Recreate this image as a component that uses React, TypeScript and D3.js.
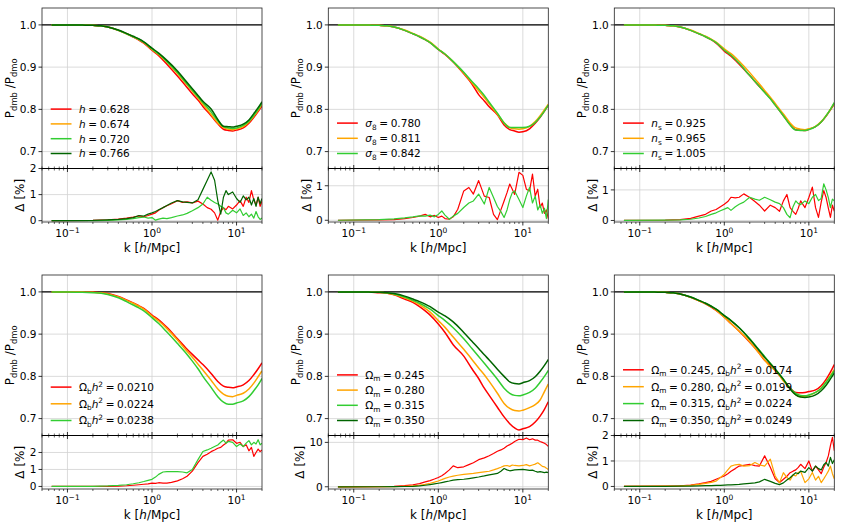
import * as d3 from 'd3';

const W = 843;
const H = 527;
const COLS = [42, 328.3, 614.3];
const ROWS = [8, 275];
const PW = 220;
const MAIN_H = 160.5;
const DELTA_H = 53.5;

const RED = '#ff0000';
const ORANGE = '#ffa500';
const LIME = '#32cd32';
const DARK = '#006400';

// k grid of the ratio curves and of the difference curves
const K = [0.065, 0.1, 0.15, 0.2, 0.25, 0.3, 0.4, 0.5, 0.6, 0.7, 0.8, 1.0, 1.2, 1.5, 2.0, 2.5, 3.0, 3.5, 4.0, 5.0, 6.0, 7.0, 8.0, 9.0, 10, 12, 14, 16, 18, 20];
const KD = [0.065, 0.2, 0.3, 0.4, 0.5, 0.6, 0.7, 0.8, 0.9, 1.0, 1.1, 1.2, 1.35, 1.5, 1.7, 2.0, 2.3, 2.6, 3.0, 3.5, 4.0, 4.5, 5.0, 5.5, 6.0, 6.5, 7.0, 7.5, 8.0, 9.0, 10, 11, 12, 13, 14, 15, 16, 17, 18, 19, 20];

const RATIO_TICKS = [0.7, 0.8, 0.9, 1.0];

// h
const H_VALUES = ['0.628', '0.674', '0.720', '0.766'];
const H_RATIO = [
  [1.000, 1.000, 0.9995, 0.999, 0.998, 0.995, 0.987, 0.979, 0.971, 0.964, 0.957, 0.940, 0.927, 0.907, 0.879, 0.856, 0.837, 0.822, 0.807, 0.785, 0.766, 0.753, 0.750, 0.749, 0.751, 0.756, 0.767, 0.781, 0.795, 0.808],
  [1.000, 1.000, 0.9995, 0.999, 0.998, 0.995, 0.987, 0.979, 0.972, 0.965, 0.958, 0.942, 0.930, 0.912, 0.885, 0.862, 0.843, 0.827, 0.812, 0.788, 0.768, 0.757, 0.753, 0.752, 0.754, 0.759, 0.770, 0.784, 0.798, 0.812],
  [1.000, 1.000, 0.9995, 0.999, 0.998, 0.995, 0.987, 0.979, 0.972, 0.966, 0.959, 0.943, 0.931, 0.913, 0.887, 0.864, 0.845, 0.830, 0.816, 0.794, 0.773, 0.759, 0.756, 0.755, 0.756, 0.762, 0.772, 0.786, 0.800, 0.815],
  [1.000, 1.000, 0.9995, 0.999, 0.998, 0.995, 0.988, 0.980, 0.973, 0.967, 0.960, 0.945, 0.933, 0.916, 0.891, 0.868, 0.849, 0.833, 0.819, 0.801, 0.776, 0.760, 0.759, 0.758, 0.760, 0.765, 0.775, 0.790, 0.804, 0.818],
];
const H_DELTA = [
  [0, 0.01, 0.03, 0.06, 0.1, 0.14, 0.18, 0.15, 0.2, 0.25, 0.3, 0.4, 0.5, 0.57, 0.65, 0.77, 0.7, 0.72, 0.68, 0.75, 0.64, 0.5, 0.44, 0.3, 0.02, 0.35, 0.5, 0.42, 0.55, 0.45, 0.6, 0.77, 0.55, 0.9, 0.7, 1.15, 0.8, 0.6, 0.9, 0.55, 0.75],
  [0, 0, 0.01, 0.03, 0.05, 0.08, 0.12, 0.14, 0.1, 0.12, 0.02, 0.06, 0.1, 0.08, 0.12, 0.18, 0.22, 0.28, 0.38, 0.5, 0.64, 0.9, 0.78, 0.7, 0.64, 0.55, 0.5, 0.3, 0.25, 0.4, 0.3, 0.45, 0.2, 0.3, 0.15, 0.25, 0.1, 0.35, 0.15, 0.05, 0.1],
  [0, 0.01, 0.03, 0.05, 0.08, 0.12, 0.2, 0.18, 0.25, 0.3, 0.35, 0.42, 0.5, 0.58, 0.68, 0.77, 0.72, 0.7, 0.68, 0.8, 1.2, 1.55, 1.87, 1.55, 0.77, 0.25, 0.9, 1.15, 1.0, 1.1, 0.85, 0.7, 0.95, 0.8, 0.9, 0.6, 0.85, 0.55, 0.9, 0.65, 0.85],
];

// sigma_8
const S8_VALUES = ['0.780', '0.811', '0.842'];
const S8_RATIO = [
  [1.000, 1.000, 0.9995, 0.999, 0.998, 0.995, 0.987, 0.979, 0.972, 0.965, 0.958, 0.942, 0.930, 0.912, 0.884, 0.860, 0.835, 0.820, 0.806, 0.787, 0.763, 0.752, 0.749, 0.746, 0.747, 0.754, 0.767, 0.781, 0.796, 0.810],
  [1.000, 1.000, 0.9995, 0.999, 0.998, 0.995, 0.988, 0.980, 0.973, 0.966, 0.959, 0.943, 0.931, 0.913, 0.886, 0.863, 0.844, 0.828, 0.813, 0.789, 0.768, 0.757, 0.754, 0.753, 0.754, 0.760, 0.771, 0.785, 0.799, 0.812],
  [1.000, 1.000, 0.9995, 0.999, 0.998, 0.995, 0.987, 0.979, 0.972, 0.965, 0.958, 0.942, 0.931, 0.913, 0.888, 0.866, 0.849, 0.833, 0.817, 0.791, 0.768, 0.757, 0.757, 0.757, 0.757, 0.760, 0.769, 0.782, 0.796, 0.810],
];
const S8_DELTA = [
  [0, 0.01, 0.02, 0.05, 0.08, 0.12, 0.17, 0.1, 0.14, 0.08, 0.12, 0.05, 0.03, 0.1, 0.32, 0.85, 0.95, 0.76, 1.15, 0.7, 0.66, 0.17, 0.02, 0.3, 0.56, 0.8, 1.05, 0.9, 0.75, 1.39, 1.3, 0.9, 0.85, 1.34, 0.7, 0.9, 0.37, 0.5, 0.2, 0.3, 0.05],
  [0, 0.02, 0.04, 0.07, 0.1, 0.13, 0.12, 0.15, 0.1, 0.17, 0.27, 0.15, 0.03, 0.12, 0.2, 0.37, 0.5, 0.56, 0.76, 0.47, 0.95, 0.66, 0.4, 0.25, 0.08, 0.3, 0.6, 0.8, 0.85, 0.6, 0.37, 0.7, 0.95, 0.5, 0.7, 0.3, 0.45, 0.2, 0.35, 0.05, 0.6],
];

// n_s
const NS_VALUES = ['0.925', '0.965', '1.005'];
const NS_RATIO = [
  [1.000, 1.000, 0.9995, 0.999, 0.998, 0.995, 0.987, 0.979, 0.972, 0.965, 0.957, 0.938, 0.926, 0.907, 0.880, 0.858, 0.841, 0.826, 0.811, 0.785, 0.764, 0.752, 0.751, 0.750, 0.753, 0.759, 0.770, 0.784, 0.799, 0.813],
  [1.000, 1.000, 0.9995, 0.999, 0.998, 0.995, 0.988, 0.980, 0.973, 0.966, 0.959, 0.943, 0.932, 0.914, 0.887, 0.864, 0.845, 0.829, 0.814, 0.789, 0.768, 0.756, 0.753, 0.752, 0.754, 0.760, 0.771, 0.785, 0.800, 0.815],
  [1.000, 1.000, 0.9995, 0.999, 0.998, 0.995, 0.987, 0.979, 0.972, 0.965, 0.958, 0.940, 0.928, 0.909, 0.880, 0.858, 0.840, 0.825, 0.810, 0.785, 0.763, 0.751, 0.750, 0.750, 0.752, 0.759, 0.770, 0.785, 0.800, 0.816],
];
const NS_DELTA = [
  [0, 0.01, 0.03, 0.07, 0.14, 0.2, 0.31, 0.36, 0.45, 0.53, 0.62, 0.76, 0.74, 0.76, 0.87, 0.75, 0.62, 0.5, 0.31, 0.5, 0.42, 0.3, 0.64, 0.85, 0.42, 0.3, 0.2, 0.4, 0.64, 0.42, 0.75, 1.09, 0.42, 0.1, 0.6, 0.98, 0.75, 0.4, 0.1, 0.5, 0.3],
  [0, 0.01, 0.02, 0.04, 0.08, 0.13, 0.2, 0.25, 0.32, 0.37, 0.42, 0.33, 0.45, 0.53, 0.6, 0.76, 0.7, 0.66, 0.76, 0.68, 0.6, 0.55, 0.42, 0.2, 0.09, 0.45, 0.64, 0.55, 0.52, 0.64, 0.55, 0.76, 0.85, 0.65, 0.72, 1.2, 1.0, 0.75, 0.42, 0.7, 0.64],
];

// Omega_b h^2
const OB_VALUES = ['0.0210', '0.0224', '0.0238'];
const OB_RATIO = [
  [1.000, 1.000, 0.9995, 0.999, 0.998, 0.996, 0.989, 0.981, 0.974, 0.967, 0.961, 0.945, 0.934, 0.916, 0.889, 0.868, 0.852, 0.839, 0.828, 0.807, 0.788, 0.777, 0.774, 0.773, 0.775, 0.780, 0.790, 0.804, 0.818, 0.832],
  [1.000, 1.000, 0.9995, 0.999, 0.998, 0.995, 0.988, 0.980, 0.973, 0.966, 0.959, 0.943, 0.931, 0.913, 0.886, 0.863, 0.845, 0.829, 0.815, 0.791, 0.770, 0.758, 0.753, 0.752, 0.755, 0.760, 0.770, 0.784, 0.799, 0.813],
  [1.000, 1.000, 0.999, 0.998, 0.997, 0.994, 0.986, 0.977, 0.969, 0.962, 0.955, 0.939, 0.925, 0.905, 0.878, 0.856, 0.836, 0.818, 0.800, 0.774, 0.752, 0.739, 0.734, 0.734, 0.737, 0.742, 0.752, 0.766, 0.780, 0.795],
];
const OB_DELTA = [
  [0, 0, 0.01, 0.02, 0.04, 0.07, 0.1, 0.13, 0.15, 0.2, 0.18, 0.22, 0.2, 0.2, 0.24, 0.33, 0.45, 0.6, 0.9, 1.4, 1.77, 1.9, 2.05, 2.15, 2.25, 2.3, 2.44, 2.55, 2.73, 2.75, 2.54, 2.6, 2.35, 2.45, 2.1, 2.3, 1.77, 2.0, 2.2, 2.05, 2.15],
  [0, 0.01, 0.03, 0.06, 0.1, 0.16, 0.22, 0.29, 0.36, 0.42, 0.55, 0.71, 0.85, 0.87, 0.87, 0.87, 0.85, 0.8, 1.0, 1.58, 2.06, 2.15, 2.25, 2.35, 2.44, 2.6, 2.73, 2.55, 2.65, 2.6, 2.35, 2.5, 2.35, 2.55, 2.7, 2.45, 2.6, 2.5, 2.75, 2.45, 2.55],
];

// Omega_m
const OM_VALUES = ['0.245', '0.280', '0.315', '0.350'];
const OM_RATIO = [
  [1.000, 1.000, 0.9995, 0.998, 0.997, 0.993, 0.983, 0.975, 0.965, 0.955, 0.945, 0.924, 0.904, 0.875, 0.848, 0.818, 0.795, 0.772, 0.755, 0.727, 0.704, 0.688, 0.678, 0.673, 0.676, 0.681, 0.692, 0.706, 0.722, 0.740],
  [1.000, 1.000, 0.9995, 0.999, 0.997, 0.994, 0.986, 0.978, 0.970, 0.961, 0.952, 0.932, 0.916, 0.893, 0.864, 0.840, 0.820, 0.804, 0.788, 0.760, 0.736, 0.724, 0.719, 0.718, 0.720, 0.726, 0.733, 0.744, 0.764, 0.782],
  [1.000, 1.000, 0.9995, 0.999, 0.998, 0.995, 0.988, 0.980, 0.973, 0.966, 0.959, 0.944, 0.932, 0.915, 0.889, 0.866, 0.847, 0.831, 0.817, 0.793, 0.772, 0.760, 0.755, 0.754, 0.756, 0.762, 0.772, 0.786, 0.800, 0.814],
  [1.000, 1.000, 0.9995, 0.999, 0.998, 0.996, 0.990, 0.983, 0.977, 0.971, 0.965, 0.952, 0.943, 0.929, 0.904, 0.883, 0.866, 0.851, 0.839, 0.817, 0.800, 0.787, 0.783, 0.782, 0.785, 0.790, 0.799, 0.812, 0.826, 0.840],
];
const OM_DELTA = [
  [0, 0.02, 0.08, 0.25, 0.45, 0.7, 1.1, 1.4, 1.75, 2.1, 2.5, 3.0, 3.8, 4.7, 4.3, 4.5, 5.0, 5.4, 6.1, 6.5, 7.0, 7.5, 8.0, 8.3, 8.7, 9.2, 9.5, 9.8, 10.2, 10.7, 10.6, 11.0, 10.6, 10.8, 10.5, 10.5, 10.2, 10.0, 9.8, 9.5, 9.1],
  [0, 0.01, 0.05, 0.12, 0.2, 0.35, 0.55, 0.8, 1.05, 1.3, 1.6, 1.9, 2.2, 2.4, 2.6, 2.8, 2.9, 3.0, 3.2, 3.35, 3.5, 3.8, 4.1, 4.4, 4.7, 4.8, 4.6, 4.9, 4.8, 4.7, 4.8, 5.0, 4.7, 4.9, 5.1, 5.4, 5.0, 4.6, 4.5, 4.2, 3.9],
  [0, 0.01, 0.03, 0.06, 0.1, 0.2, 0.35, 0.5, 0.65, 0.8, 0.95, 1.1, 1.3, 1.5, 1.6, 1.7, 1.85, 2.0, 2.2, 2.45, 2.7, 2.85, 3.0, 3.5, 4.1, 3.8, 3.6, 3.7, 3.8, 3.85, 3.9, 3.8, 3.7, 3.75, 3.5, 3.3, 3.4, 3.3, 3.2, 3.3, 3.2],
];

// Omega_m with Omega_b h^2 scaled
const OMB_M = ['0.245', '0.280', '0.315', '0.350'];
const OMB_B = ['0.0174', '0.0199', '0.0224', '0.0249'];
const OMB_RATIO = [
  [1.000, 1.000, 0.9995, 0.999, 0.998, 0.995, 0.987, 0.979, 0.972, 0.964, 0.956, 0.940, 0.925, 0.907, 0.881, 0.859, 0.838, 0.826, 0.814, 0.791, 0.772, 0.762, 0.761, 0.762, 0.764, 0.768, 0.778, 0.793, 0.810, 0.828],
  [1.000, 1.000, 0.9995, 0.999, 0.998, 0.995, 0.987, 0.979, 0.972, 0.965, 0.957, 0.940, 0.925, 0.907, 0.882, 0.858, 0.839, 0.823, 0.815, 0.789, 0.771, 0.757, 0.752, 0.753, 0.755, 0.762, 0.772, 0.787, 0.802, 0.816],
  [1.000, 1.000, 0.9995, 0.999, 0.998, 0.995, 0.988, 0.980, 0.973, 0.966, 0.959, 0.944, 0.932, 0.915, 0.889, 0.866, 0.847, 0.831, 0.817, 0.793, 0.772, 0.760, 0.755, 0.754, 0.756, 0.762, 0.772, 0.786, 0.800, 0.813],
  [1.000, 1.000, 0.9995, 0.999, 0.998, 0.995, 0.988, 0.980, 0.973, 0.966, 0.959, 0.944, 0.932, 0.915, 0.888, 0.865, 0.845, 0.830, 0.817, 0.793, 0.770, 0.756, 0.751, 0.750, 0.751, 0.756, 0.766, 0.779, 0.794, 0.808],
];
const OMB_DELTA = [
  [0, 0.01, 0.02, 0.05, 0.1, 0.15, 0.2, 0.28, 0.35, 0.41, 0.5, 0.6, 0.7, 0.8, 0.83, 0.87, 0.82, 0.8, 1.2, 0.75, 0.3, 0.15, 0.28, 0.4, 0.54, 0.6, 0.65, 0.75, 0.87, 0.7, 1.0, 0.6, 0.8, 0.65, 0.5, 0.75, 0.94, 1.2, 1.6, 1.93, 1.4],
  [0, 0.01, 0.02, 0.04, 0.08, 0.12, 0.16, 0.21, 0.35, 0.48, 0.65, 0.8, 0.85, 0.87, 0.8, 0.82, 0.94, 0.85, 0.8, 1.07, 0.41, 0.15, 0.54, 0.35, 0.25, 0.45, 0.41, 0.55, 0.6, 0.15, 0.3, 0.55, 0.25, 0.4, 0.15, 0.3, 0.45, 0.6, 0.8, 0.5, 0.3],
  [0, 0, 0.01, 0.01, 0.02, 0.03, 0.03, 0.04, 0.04, 0.05, 0.06, 0.06, 0.07, 0.08, 0.1, 0.12, 0.14, 0.18, 0.28, 0.2, 0.12, 0.07, 0.14, 0.25, 0.34, 0.45, 0.54, 0.5, 0.6, 0.55, 0.74, 0.6, 0.8, 0.7, 0.65, 0.85, 0.94, 0.8, 1.14, 0.9, 1.05],
];

type Seg = { t: string; it?: boolean; sub?: boolean; sup?: boolean };

const FONT = 'DejaVu Sans, sans-serif';
const EQ = '\u2005=\u2005';
const LEG_FS = 10.5;

function Rich({ segs, size }: { segs: Seg[]; size: number }) {
  let off = 0;
  return (
    <>
      {segs.map((s, i) => {
        const target = s.sub ? size * 0.25 : s.sup ? -size * 0.4 : 0;
        const dy = target - off;
        off = target;
        return (
          <tspan key={i} dy={dy} fontStyle={s.it ? 'italic' : undefined}
            fontSize={s.sub || s.sup ? size * 0.7 : size}>{s.t}</tspan>
        );
      })}
    </>
  );
}

interface PanelProps {
  id: string;
  col: number;
  row: number;
  ratios: number[][];
  colors: string[];
  deltas: number[][];
  deltaColors: string[];
  dDomain: [number, number];
  dTicks: number[];
  labels: Seg[][];
  legendDy: number;
}

function Panel(p: PanelProps) {
  const left = COLS[p.col];
  const top = ROWS[p.row];
  const mid = top + MAIN_H;
  const bot = mid + DELTA_H;
  const right = left + PW;

  const x = d3.scaleLog().domain([0.05, 20]).range([left, right]);
  const y = d3.scaleLinear().domain([0.66, 1.04]).range([mid, top]);
  const yd = d3.scaleLinear().domain(p.dDomain).range([bot, mid]);

  const major = [0.1, 1, 10];
  const minor = x.ticks().filter(t => !major.some(m => Math.abs(m - t) < 1e-9));

  const ratioLine = d3.line<number>()
    .x((_, i) => x(K[i]))
    .y(d => y(d))
    .curve(d3.curveMonotoneX);
  const deltaLine = d3.line<number>()
    .x((_, i) => x(KD[i]))
    .y(d => yd(d));

  const tickW = d3.max(p.dTicks, t => String(t).length)! * 6.7;
  const gridC = '#d2d2d2';

  return (
    <g>
      <defs>
        <clipPath id={`${p.id}-m`}><rect x={left} y={top} width={PW} height={MAIN_H} /></clipPath>
        <clipPath id={`${p.id}-d`}><rect x={left} y={mid} width={PW} height={DELTA_H} /></clipPath>
      </defs>

      {/* grids */}
      {major.map(m => (
        <g key={m}>
          <line x1={x(m)} x2={x(m)} y1={top} y2={mid} stroke={gridC} strokeWidth={0.8} />
          <line x1={x(m)} x2={x(m)} y1={mid} y2={bot} stroke={gridC} strokeWidth={0.8} />
        </g>
      ))}
      {RATIO_TICKS.map(t => (
        <line key={t} x1={left} x2={right} y1={y(t)} y2={y(t)} stroke={gridC} strokeWidth={0.8} />
      ))}
      {p.dTicks.map(t => (
        <line key={t} x1={left} x2={right} y1={yd(t)} y2={yd(t)} stroke={gridC} strokeWidth={0.8} />
      ))}

      <line x1={left} x2={right} y1={y(1)} y2={y(1)} stroke="#000" strokeWidth={1.3} />

      <g clipPath={`url(#${p.id}-m)`}>
        {p.ratios.map((r, i) => (
          <path key={i} d={ratioLine(r)!} fill="none" stroke={p.colors[i]} strokeWidth={1.5} />
        ))}
      </g>
      <g clipPath={`url(#${p.id}-d)`}>
        {p.deltas.map((r, i) => (
          <path key={i} d={deltaLine(r)!} fill="none" stroke={p.deltaColors[i]} strokeWidth={1.2}
            strokeLinejoin="round" />
        ))}
      </g>

      {/* frames */}
      <rect x={left} y={top} width={PW} height={MAIN_H} fill="none" stroke="#222" strokeWidth={0.8} />
      <rect x={left} y={mid} width={PW} height={DELTA_H} fill="none" stroke="#222" strokeWidth={0.8} />
      <line x1={left} x2={right} y1={mid} y2={mid} stroke="#000" strokeWidth={1.2} />

      {/* x ticks at the joint and at the bottom */}
      {major.map(m => (
        <g key={m} stroke="#000" strokeWidth={0.8}>
          <line x1={x(m)} x2={x(m)} y1={mid - 3.5} y2={mid + 3.5} />
          <line x1={x(m)} x2={x(m)} y1={bot} y2={bot + 3.5} />
        </g>
      ))}
      {minor.map(m => (
        <g key={m} stroke="#000" strokeWidth={0.6}>
          <line x1={x(m)} x2={x(m)} y1={mid - 2} y2={mid + 2} />
          <line x1={x(m)} x2={x(m)} y1={bot} y2={bot + 2} />
        </g>
      ))}
      {major.map((m, i) => (
        <text key={m} x={x(m)} y={bot + 15} textAnchor="middle" fontSize={10.5} fontFamily={FONT}>
          <tspan>10</tspan>
          <tspan dy={-4.5} fontSize={7.5}>{['\u22121', '0', '1'][i]}</tspan>
        </text>
      ))}

      {/* y ticks */}
      {RATIO_TICKS.map(t => (
        <g key={t}>
          <line x1={left - 3.5} x2={left} y1={y(t)} y2={y(t)} stroke="#000" strokeWidth={0.8} />
          <text x={left - 5.5} y={y(t) + 3.8} textAnchor="end" fontSize={10.5} fontFamily={FONT}>{t.toFixed(1)}</text>
        </g>
      ))}
      {p.dTicks.map(t => (
        <g key={t}>
          <line x1={left - 3.5} x2={left} y1={yd(t)} y2={yd(t)} stroke="#000" strokeWidth={0.8} />
          <text x={left - 5.5} y={yd(t) + 3.8} textAnchor="end" fontSize={10.5} fontFamily={FONT}>{t}</text>
        </g>
      ))}

      {/* axis labels */}
      <text transform={`translate(${left - 28},${top + MAIN_H / 2}) rotate(-90)`} textAnchor="middle"
        fontSize={12} fontFamily={FONT} style={{ whiteSpace: 'pre' }}>
        <Rich size={12} segs={[{ t: 'P' }, { t: 'dmb', sub: true }, { t: ' /P' }, { t: 'dmo', sub: true }]} />
      </text>
      <text transform={`translate(${left - 11 - tickW},${mid + DELTA_H / 2}) rotate(-90)`} textAnchor="middle"
        fontSize={12} fontFamily={FONT} style={{ whiteSpace: 'pre' }}>Δ [%]</text>
      <text x={left + PW / 2} y={bot + 30} textAnchor="middle" fontSize={12} fontFamily={FONT}
        style={{ whiteSpace: 'pre' }}>
        k [<tspan fontStyle="italic">h</tspan>/Mpc]
      </text>

      {/* legend */}
      {p.labels.map((segs, i) => {
        const cy = top + 145.5 - (p.labels.length - 1 - i) * p.legendDy;
        return (
          <g key={i}>
            <line x1={left + 8.7} x2={left + 29.5} y1={cy} y2={cy} stroke={p.colors[i]} strokeWidth={1.5} />
            <text x={left + 37} y={cy + 3.8} fontSize={LEG_FS} fontFamily={FONT} style={{ whiteSpace: 'pre' }}>
              <Rich size={LEG_FS} segs={segs} />
            </text>
          </g>
        );
      })}
    </g>
  );
}

const C4 = [RED, ORANGE, LIME, DARK];
const C3 = [RED, ORANGE, LIME];

export default function App() {
  return (
    <svg width={W} height={H} style={{ position: 'absolute', left: 0, top: 0, background: '#fff' }}>
      <rect width={W} height={H} fill="#fff" />
      <Panel id="p1" col={0} row={0} ratios={H_RATIO} colors={C4}
        deltas={H_DELTA} deltaColors={[RED, LIME, DARK]} dDomain={[-0.05, 2.0]} dTicks={[0, 1, 2]}
        labels={H_VALUES.map(v => [{ t: 'h', it: true }, { t: EQ + v }])} legendDy={14.8} />
      <Panel id="p2" col={1} row={0} ratios={S8_RATIO} colors={C3}
        deltas={S8_DELTA} deltaColors={[RED, LIME]} dDomain={[-0.05, 1.5]} dTicks={[0, 1]}
        labels={S8_VALUES.map(v => [{ t: 'σ', it: true }, { t: '8', sub: true }, { t: EQ + v }])} legendDy={15.2} />
      <Panel id="p3" col={2} row={0} ratios={NS_RATIO} colors={C3}
        deltas={NS_DELTA} deltaColors={[RED, LIME]} dDomain={[-0.05, 1.7]} dTicks={[0, 1]}
        labels={NS_VALUES.map(v => [{ t: 'n', it: true }, { t: 's', sub: true }, { t: EQ + v }])} legendDy={15.2} />
      <Panel id="p4" col={0} row={1} ratios={OB_RATIO} colors={C3}
        deltas={OB_DELTA} deltaColors={[RED, LIME]} dDomain={[-0.15, 3.0]} dTicks={[0, 1, 2]}
        labels={OB_VALUES.map(v => [{ t: 'Ω' }, { t: 'b', sub: true }, { t: 'h', it: true }, { t: '2', sup: true }, { t: EQ + v }])}
        legendDy={16.7} />
      <Panel id="p5" col={1} row={1} ratios={OM_RATIO} colors={C4}
        deltas={OM_DELTA} deltaColors={[RED, ORANGE, DARK]} dDomain={[-0.5, 11.55]} dTicks={[0, 10]}
        labels={OM_VALUES.map(v => [{ t: 'Ω' }, { t: 'm', sub: true }, { t: EQ + v }])} legendDy={15.2} />
      <Panel id="p6" col={2} row={1} ratios={OMB_RATIO} colors={C4}
        deltas={OMB_DELTA} deltaColors={[RED, ORANGE, DARK]} dDomain={[-0.1, 2.0]} dTicks={[0, 1, 2]}
        labels={OMB_M.map((m, i) => [
          { t: 'Ω' }, { t: 'm', sub: true }, { t: EQ + m + ', Ω' }, { t: 'b', sub: true },
          { t: 'h', it: true }, { t: '2', sup: true }, { t: EQ + OMB_B[i] },
        ])} legendDy={16.9} />
    </svg>
  );
}
